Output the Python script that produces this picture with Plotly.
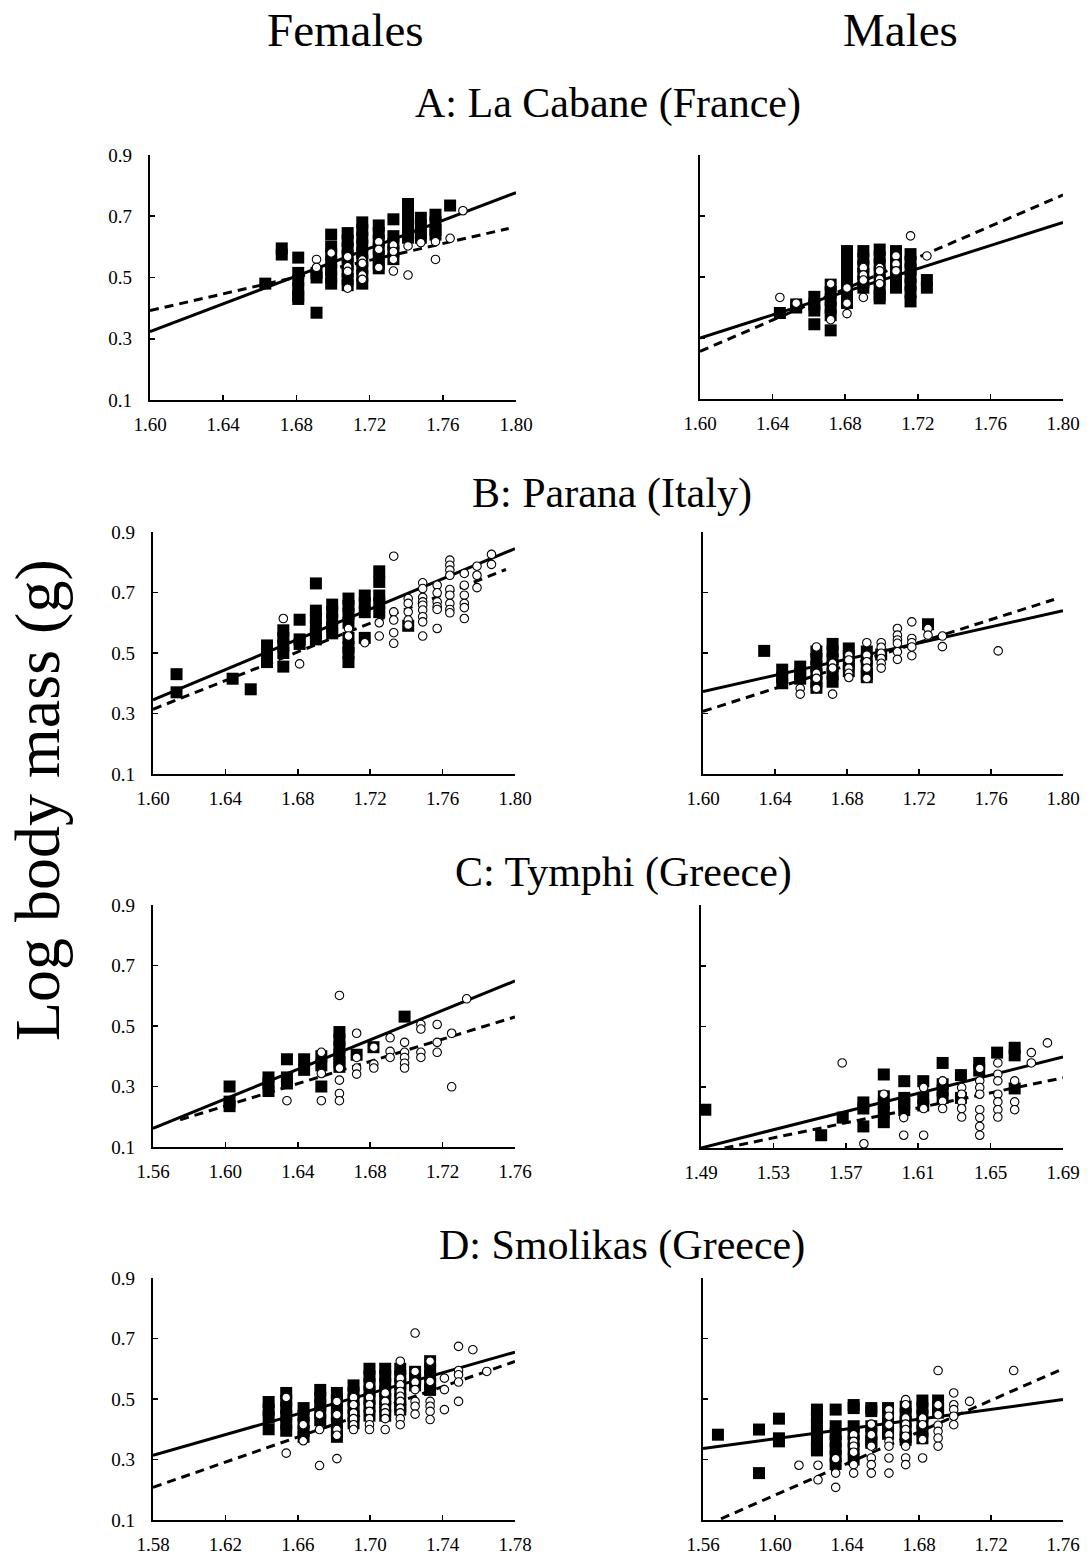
import plotly.graph_objects as go

# ---------------- DATA ----------------
# Each panel: square (filled) columns and circle (open) columns as (x, [y values])
af_sq = [(1.663, [0.48]), (1.672, [0.575, 0.595]),
         (1.681, [0.565, 0.515, 0.49, 0.465, 0.44, 0.43]),
         (1.691, [0.385, 0.515, 0.50]),
         (1.699, [0.64, 0.60, 0.575, 0.55, 0.525, 0.50, 0.48]),
         (1.708, [0.645, 0.62, 0.595, 0.57, 0.545, 0.52, 0.495, 0.475]),
         (1.716, [0.68, 0.655, 0.63, 0.605, 0.58, 0.555, 0.53, 0.505, 0.48]),
         (1.725, [0.67, 0.645, 0.62, 0.595, 0.57, 0.545, 0.53]),
         (1.733, [0.69, 0.635, 0.61, 0.585, 0.56]),
         (1.741, [0.74, 0.715, 0.69, 0.665, 0.64, 0.63]),
         (1.748, [0.695, 0.67, 0.645, 0.63]),
         (1.756, [0.705, 0.68, 0.655, 0.64]),
         (1.764, [0.735])]
af_ci = [(1.691, [0.559, 0.533]), (1.699, [0.58]),
         (1.708, [0.568, 0.535, 0.52, 0.465]),
         (1.716, [0.557, 0.546, 0.508, 0.494]),
         (1.725, [0.617, 0.592, 0.533]),
         (1.733, [0.606, 0.585, 0.559, 0.521]),
         (1.741, [0.603, 0.508]), (1.748, [0.614]),
         (1.756, [0.617, 0.559]), (1.764, [0.628]), (1.771, [0.718])]
af_solid = ([1.60, 1.80], [0.323, 0.777])
af_dash = ([1.60, 1.796], [0.392, 0.66])

am_sq = [(1.644, [0.382]), (1.653, [0.41, 0.40]),
         (1.663, [0.435, 0.41, 0.39, 0.345]),
         (1.672, [0.475, 0.45, 0.425, 0.40, 0.375, 0.325]),
         (1.681, [0.585, 0.56, 0.535, 0.51, 0.485, 0.46, 0.435, 0.415]),
         (1.690, [0.585, 0.56, 0.535, 0.51, 0.485, 0.465]),
         (1.699, [0.59, 0.565, 0.54, 0.515, 0.49, 0.465, 0.44, 0.43]),
         (1.708, [0.585, 0.56, 0.535, 0.51, 0.485, 0.465]),
         (1.716, [0.575, 0.55, 0.525, 0.50, 0.475, 0.45, 0.42]),
         (1.725, [0.49, 0.465])]
am_ci = [(1.644, [0.433]), (1.653, [0.414]), (1.672, [0.478, 0.36]),
         (1.681, [0.464, 0.414, 0.38]),
         (1.690, [0.531, 0.507, 0.49, 0.433]),
         (1.699, [0.531, 0.52, 0.493, 0.478]),
         (1.708, [0.569, 0.543, 0.52]), (1.716, [0.635]), (1.725, [0.569])]
am_solid = ([1.60, 1.80], [0.30, 0.679])
am_dash = ([1.60, 1.80], [0.256, 0.769])

bf_sq = [(1.613, [0.43, 0.37]), (1.644, [0.415]), (1.654, [0.38]),
         (1.663, [0.525, 0.50, 0.48, 0.47]),
         (1.672, [0.575, 0.55, 0.525, 0.50, 0.455]),
         (1.681, [0.61, 0.545, 0.53]),
         (1.690, [0.73, 0.64, 0.615, 0.59, 0.565, 0.545]),
         (1.699, [0.66, 0.635, 0.61, 0.585, 0.565]),
         (1.708, [0.68, 0.655, 0.63, 0.60, 0.55, 0.52, 0.50, 0.47]),
         (1.717, [0.69, 0.665, 0.635, 0.55]),
         (1.725, [0.77, 0.735, 0.69, 0.665, 0.635]),
         (1.741, [0.59])]
bf_ci = [(1.672, [0.614]), (1.681, [0.464]), (1.708, [0.581, 0.556]),
         (1.717, [0.534]), (1.725, [0.60, 0.556]),
         (1.733, [0.82, 0.636, 0.609, 0.567, 0.532]),
         (1.741, [0.68, 0.664, 0.636, 0.609, 0.592]),
         (1.749, [0.732, 0.713, 0.684, 0.669, 0.658, 0.642, 0.62, 0.603, 0.556]),
         (1.757, [0.724, 0.699, 0.669, 0.653, 0.644, 0.581]),
         (1.764, [0.807, 0.79, 0.774, 0.757, 0.71, 0.691, 0.664, 0.644, 0.633]),
         (1.772, [0.763, 0.724, 0.691, 0.664, 0.65, 0.614]),
         (1.779, [0.787, 0.757, 0.716]),
         (1.787, [0.826, 0.793])]
bf_solid = ([1.60, 1.80], [0.345, 0.845])
bf_dash = ([1.60, 1.795], [0.314, 0.776])

bm_sq = [(1.634, [0.507]), (1.644, [0.445, 0.42, 0.40]),
         (1.654, [0.455, 0.43, 0.415]),
         (1.663, [0.505, 0.48, 0.455, 0.43, 0.405, 0.385]),
         (1.672, [0.53, 0.505, 0.48, 0.455, 0.43, 0.405]),
         (1.681, [0.515, 0.49, 0.465, 0.44]),
         (1.691, [0.505, 0.48, 0.455, 0.43, 0.42]),
         (1.699, [0.495]), (1.725, [0.595])]
bm_ci = [(1.654, [0.383, 0.364]), (1.663, [0.52, 0.433, 0.416, 0.383]),
         (1.672, [0.466, 0.45, 0.364]),
         (1.681, [0.493, 0.477, 0.45, 0.433, 0.419]),
         (1.691, [0.534, 0.493, 0.471, 0.45, 0.416]),
         (1.699, [0.534, 0.519, 0.499, 0.482, 0.466, 0.45]),
         (1.708, [0.581, 0.559, 0.543, 0.532, 0.504, 0.479]),
         (1.716, [0.603, 0.548, 0.534, 0.52, 0.491]),
         (1.725, [0.581, 0.559]), (1.733, [0.556, 0.521]), (1.764, [0.507])]
bm_solid = ([1.60, 1.80], [0.373, 0.64])
bm_dash = ([1.60, 1.795], [0.307, 0.677])

cf_sq = [(1.6023, [0.30, 0.25, 0.235]), (1.6238, [0.33, 0.31, 0.285]),
         (1.634, [0.39, 0.33, 0.31]), (1.6435, [0.39, 0.355]),
         (1.653, [0.40, 0.37, 0.30]),
         (1.663, [0.48, 0.455, 0.43, 0.405, 0.38, 0.365]),
         (1.6725, [0.405]), (1.6818, [0.43]), (1.699, [0.531])]
cf_ci = [(1.634, [0.253]), (1.653, [0.413, 0.343, 0.253]),
         (1.663, [0.601, 0.361, 0.321, 0.277, 0.253]),
         (1.6725, [0.476, 0.396, 0.361, 0.341]),
         (1.682, [0.43, 0.374, 0.361]), (1.691, [0.461, 0.416, 0.396]),
         (1.699, [0.446, 0.413, 0.396, 0.377, 0.361]),
         (1.708, [0.505, 0.49, 0.413, 0.396]),
         (1.717, [0.505, 0.446, 0.413]), (1.725, [0.476, 0.299]),
         (1.7333, [0.59])]
cf_solid = ([1.56, 1.76], [0.162, 0.649])
cf_dash = ([1.575, 1.76], [0.19, 0.53])

cm_sq = [(1.4924, [0.226]), (1.5564, [0.142]), (1.5683, [0.20]),
         (1.5797, [0.25, 0.23, 0.171]),
         (1.591, [0.342, 0.27, 0.245, 0.22, 0.185]),
         (1.6023, [0.32, 0.265, 0.245, 0.225]),
         (1.6128, [0.32, 0.265, 0.24]),
         (1.6235, [0.38, 0.31, 0.29, 0.265]),
         (1.6336, [0.34, 0.265]), (1.6437, [0.38, 0.355]),
         (1.6536, [0.414]), (1.6633, [0.43, 0.405, 0.296])]
cm_ci = [(1.568, [0.38]), (1.58, [0.114]), (1.591, [0.277]),
         (1.602, [0.2, 0.142]), (1.613, [0.299, 0.23, 0.142]),
         (1.6235, [0.321, 0.254, 0.23]),
         (1.634, [0.299, 0.277, 0.252, 0.23, 0.202]),
         (1.644, [0.362, 0.321, 0.299, 0.277, 0.226, 0.2, 0.171, 0.142]),
         (1.654, [0.38, 0.343, 0.321, 0.277, 0.252, 0.226, 0.202]),
         (1.6633, [0.321, 0.252, 0.226]), (1.6725, [0.414, 0.38]),
         (1.6814, [0.446])]
cm_solid = ([1.49, 1.69], [0.10, 0.40])
cm_dash = ([1.503, 1.69], [0.10, 0.331])

df_sq = [(1.6439, [0.49, 0.465, 0.44, 0.40]),
         (1.6536, [0.52, 0.495, 0.47, 0.445, 0.42, 0.395]),
         (1.6632, [0.47, 0.445, 0.42, 0.395, 0.375]),
         (1.6724, [0.53, 0.505, 0.48, 0.455, 0.43]),
         (1.6816, [0.52, 0.495, 0.47, 0.445, 0.42, 0.395, 0.375]),
         (1.6908, [0.545, 0.52, 0.495, 0.47, 0.445, 0.42]),
         (1.6996, [0.60, 0.575, 0.55, 0.525, 0.50, 0.475, 0.445]),
         (1.7083, [0.60, 0.575, 0.55, 0.525, 0.50, 0.475, 0.445]),
         (1.7166, [0.60, 0.575, 0.55, 0.525, 0.50, 0.475, 0.465]),
         (1.7248, [0.59, 0.565, 0.545]),
         (1.7331, [0.625, 0.60, 0.575, 0.55, 0.53])]
df_ci = [(1.6536, [0.505, 0.321]), (1.663, [0.415, 0.362]),
         (1.672, [0.448, 0.399, 0.28]),
         (1.6816, [0.492, 0.448, 0.399, 0.38, 0.303]),
         (1.6908, [0.505, 0.481, 0.454, 0.435, 0.415, 0.399]),
         (1.6996, [0.545, 0.505, 0.481, 0.459, 0.435, 0.415, 0.399]),
         (1.7083, [0.52, 0.492, 0.47, 0.454, 0.435, 0.399]),
         (1.7166, [0.625, 0.569, 0.547, 0.525, 0.509, 0.492, 0.47, 0.454, 0.435, 0.415]),
         (1.7248, [0.718, 0.591, 0.556, 0.531, 0.492, 0.476, 0.45]),
         (1.7331, [0.625, 0.558, 0.492, 0.476, 0.459, 0.432]),
         (1.741, [0.569, 0.531, 0.465]),
         (1.7488, [0.674, 0.594, 0.58, 0.556, 0.492]),
         (1.7567, [0.663]), (1.7644, [0.591])]
df_solid = ([1.58, 1.78], [0.314, 0.655])
df_dash = ([1.58, 1.78], [0.208, 0.624])

dm_sq = [(1.5683, [0.382]), (1.5911, [0.399, 0.255]),
         (1.6022, [0.435, 0.37, 0.36]),
         (1.6233, [0.465, 0.44, 0.415, 0.39, 0.365, 0.34, 0.33]),
         (1.6337, [0.465, 0.41, 0.385, 0.36, 0.335, 0.31, 0.285]),
         (1.6437, [0.48, 0.47, 0.41, 0.385, 0.36, 0.335, 0.30]),
         (1.6535, [0.47, 0.46, 0.41, 0.385, 0.36, 0.355]),
         (1.6628, [0.47, 0.445, 0.42, 0.395, 0.385]),
         (1.6726, [0.475, 0.45, 0.425, 0.40, 0.375, 0.365]),
         (1.6819, [0.495, 0.47, 0.445, 0.42, 0.395, 0.37]),
         (1.6906, [0.495, 0.47, 0.455])]
dm_ci = [(1.6133, [0.281]), (1.6239, [0.281, 0.233]),
         (1.6337, [0.303, 0.255, 0.208]),
         (1.6437, [0.382, 0.36, 0.344, 0.324, 0.283, 0.255]),
         (1.6535, [0.417, 0.382, 0.344, 0.305, 0.283, 0.255]),
         (1.6633, [0.465, 0.443, 0.415, 0.382, 0.36, 0.344, 0.305, 0.255]),
         (1.6726, [0.498, 0.481, 0.437, 0.417, 0.399, 0.377, 0.344, 0.305, 0.283]),
         (1.682, [0.437, 0.415, 0.366, 0.305]),
         (1.6906, [0.594, 0.481, 0.448, 0.413, 0.393, 0.371, 0.344]),
         (1.6993, [0.52, 0.481, 0.465, 0.443, 0.415]),
         (1.7081, [0.492]), (1.7326, [0.594])]
dm_solid = ([1.56, 1.76], [0.336, 0.498])
dm_dash = ([1.57, 1.76], [0.104, 0.60])

x_ticks_ab = [1.60, 1.64, 1.68, 1.72, 1.76, 1.80]
x_ticks_cf = [1.56, 1.60, 1.64, 1.68, 1.72, 1.76]
x_ticks_cm = [1.49, 1.53, 1.57, 1.61, 1.65, 1.69]
x_ticks_df = [1.58, 1.62, 1.66, 1.70, 1.74, 1.78]
x_ticks_dm = [1.56, 1.60, 1.64, 1.68, 1.72, 1.76]
y_ticks = [0.1, 0.3, 0.5, 0.7, 0.9]

col_titles = ["Females", "Males"]
row_titles = ["A: La Cabane (France)", "B: Parana (Italy)",
              "C: Tymphi (Greece)", "D: Smolikas (Greece)"]
y_title = "Log body mass (g)"

# ---------------- LAYOUT ----------------
W, H = 1092, 1557
FONT = "Liberation Serif, Times New Roman, serif"

panels = [
    (af_sq, af_ci, af_solid, af_dash, x_ticks_ab, (150, 516, 155, 400), True),
    (am_sq, am_ci, am_solid, am_dash, x_ticks_ab, (700, 1063, 155, 399), False),
    (bf_sq, bf_ci, bf_solid, bf_dash, x_ticks_ab, (153, 515, 532, 774), True),
    (bm_sq, bm_ci, bm_solid, bm_dash, x_ticks_ab, (703, 1063, 532, 774), False),
    (cf_sq, cf_ci, cf_solid, cf_dash, x_ticks_cf, (153, 515, 905, 1147), True),
    (cm_sq, cm_ci, cm_solid, cm_dash, x_ticks_cm, (701, 1063, 905, 1148), False),
    (df_sq, df_ci, df_solid, df_dash, x_ticks_df, (153, 515, 1278, 1520), True),
    (dm_sq, dm_ci, dm_solid, dm_dash, x_ticks_dm, (703, 1063, 1278, 1520), False),
]


def flat(cols):
    xs, ys = [], []
    for x, yl in cols:
        for y in yl:
            xs.append(x)
            ys.append(y)
    return xs, ys


fig = go.Figure()
layout = dict(
    width=W, height=H,
    margin=dict(l=0, r=0, t=0, b=0, pad=0, autoexpand=False),
    paper_bgcolor="white", plot_bgcolor="white", showlegend=False,
    font=dict(family=FONT, color="black"),
)

for i, (sq, ci, solid, dash, xt, box, showy) in enumerate(panels):
    n = i + 1
    xa = "x" if n == 1 else f"x{n}"
    ya = "y" if n == 1 else f"y{n}"
    l, r, t, b = box
    fig.add_trace(go.Scatter(x=solid[0], y=solid[1], mode="lines",
                             line=dict(color="black", width=3),
                             xaxis=xa, yaxis=ya, hoverinfo="skip"))
    fig.add_trace(go.Scatter(x=dash[0], y=dash[1], mode="lines",
                             line=dict(color="black", width=3, dash="9px,6px"),
                             xaxis=xa, yaxis=ya, hoverinfo="skip"))
    sx, sy = flat(sq)
    fig.add_trace(go.Scatter(x=sx, y=sy, mode="markers",
                             marker=dict(symbol="square", size=12, color="black",
                                         line=dict(width=0)),
                             xaxis=xa, yaxis=ya))
    cx, cy = flat(ci)
    fig.add_trace(go.Scatter(x=cx, y=cy, mode="markers",
                             marker=dict(symbol="circle", size=8.5, color="white",
                                         line=dict(color="black", width=1.1)),
                             xaxis=xa, yaxis=ya))
    xkey = "xaxis" if n == 1 else f"xaxis{n}"
    ykey = "yaxis" if n == 1 else f"yaxis{n}"
    layout[xkey] = dict(
        domain=[l / W, r / W], anchor=ya, range=[xt[0], xt[-1]],
        tickvals=xt, ticktext=[f"{v:.2f}" for v in xt],
        showline=True, linecolor="black", linewidth=2.2,
        ticks="inside", ticklen=5, tickwidth=1.6, tickcolor="black",
        showgrid=False, zeroline=False, automargin=False,
        tickfont=dict(family=FONT, size=19, color="black"),
        ticklabelstandoff=6,
    )
    layout[ykey] = dict(
        domain=[1 - b / H, 1 - t / H], anchor=xa, range=[0.1, 0.9],
        tickvals=y_ticks, ticktext=[f"{v:.1f}" for v in y_ticks],
        showticklabels=showy,
        showline=True, linecolor="black", linewidth=2.2,
        ticks="inside", ticklen=5, tickwidth=1.6, tickcolor="black",
        showgrid=False, zeroline=False, automargin=False,
        tickfont=dict(family=FONT, size=19, color="black"),
        ticklabelstandoff=12,
    )

ann = []
for txt, xc in zip(col_titles, [345, 900]):
    ann.append(dict(text=txt, x=xc / W, y=1 - 30 / H, xref="paper", yref="paper",
                    showarrow=False, xanchor="center", yanchor="middle",
                    font=dict(family=FONT, size=47, color="black")))
for txt, xc, yc in zip(row_titles, [608, 612, 623, 622], [103, 493, 872, 1245]):
    ann.append(dict(text=txt, x=xc / W, y=1 - yc / H, xref="paper", yref="paper",
                    showarrow=False, xanchor="center", yanchor="middle",
                    font=dict(family=FONT, size=42, color="black")))
ann.append(dict(text=y_title, x=37 / W, y=1 - 800 / H, xref="paper", yref="paper",
                showarrow=False, xanchor="center", yanchor="middle", textangle=-90,
                font=dict(family=FONT, size=64, color="black")))
layout["annotations"] = ann

fig.update_layout(**layout)
fig.write_html("out.html", config={"displayModeBar": False, "staticPlot": True},
               post_script="document.body.style.margin='0';document.body.style.overflow='hidden';")
